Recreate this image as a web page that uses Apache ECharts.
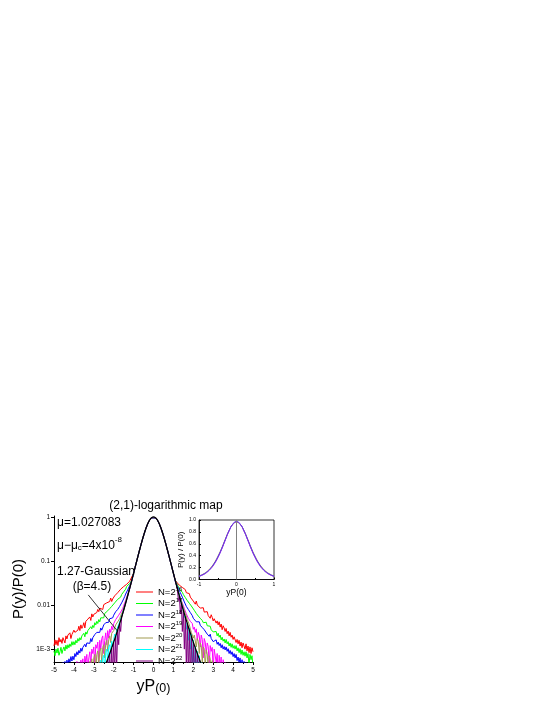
<!DOCTYPE html>
<html>
<head>
<meta charset="utf-8">
<script src="https://cdn.jsdelivr.net/npm/echarts@6/dist/echarts.min.js"></script>
<style>
  html, body { margin: 0; padding: 0; background: #fff; }
  #chart { width: 545px; height: 705px; }
</style>
</head>
<body>
<div id="chart"></div>
<script>
// |yP(0)| sample positions of the noisy tails, from 1.10 outwards
const tailX = [
  1.10, 1.15, 1.20, 1.25, 1.30, 1.35, 1.40, 1.45, 1.50, 1.55,
  1.60, 1.65, 1.70, 1.75, 1.80, 1.85, 1.90, 1.95, 2.00, 2.05,
  2.10, 2.15, 2.20, 2.25, 2.30, 2.35, 2.40, 2.45, 2.50, 2.55,
  2.60, 2.65, 2.70, 2.75, 2.80, 2.85, 2.90, 2.95, 3.00, 3.05,
  3.10, 3.15, 3.20, 3.25, 3.30, 3.35, 3.40, 3.45, 3.50, 3.55,
  3.60, 3.65, 3.70, 3.75, 3.80, 3.85, 3.90, 3.95, 4.00, 4.05,
  4.10, 4.15, 4.20, 4.25, 4.30, 4.35, 4.40, 4.45, 4.50, 4.55,
  4.60, 4.65, 4.70, 4.75, 4.80, 4.85, 4.90, 4.95, 5.00
]

// black 1.27-Gaussian, x = -2.4 .. 2.4 (its middle is the common core of all N)
const gaussX = [
  -2.4, -2.3, -2.2, -2.1, -2, -1.9, -1.8, -1.7, -1.6, -1.5,
  -1.4, -1.3, -1.2, -1.1, -1, -0.9, -0.8, -0.7, -0.6, -0.5,
  -0.4, -0.3, -0.2, -0.1, 0, 0.1, 0.2, 0.3, 0.4, 0.5,
  0.6, 0.7, 0.8, 0.9, 1, 1.1, 1.2, 1.3, 1.4, 1.5,
  1.6, 1.7, 1.8, 1.9, 2, 2.1, 2.2, 2.3, 2.4
]
// log10 of P(y)/P(0)
const gaussLog = [
  -3.341, -3.222, -3.099, -2.972, -2.842, -2.706, -2.565, -2.421, -2.272, -2.117,
  -1.958, -1.794, -1.625, -1.453, -1.278, -1.101, -0.924, -0.751, -0.583, -0.426,
  -0.286, -0.167, -0.076, -0.020, 0, -0.020, -0.076, -0.167, -0.286, -0.426,
  -0.583, -0.751, -0.924, -1.101, -1.278, -1.453, -1.625, -1.794, -1.958, -2.117,
  -2.272, -2.421, -2.565, -2.706, -2.842, -2.972, -3.099, -3.222, -3.341
]

// tails, log10 values, ordered from |x| = 1.10 outwards (L = negative side, R = positive side)
const n16L = [
  -1.44, -1.47, -1.46, -1.51, -1.54, -1.53, -1.57, -1.60, -1.58, -1.64,
  -1.67, -1.64, -1.71, -1.72, -1.72, -1.77, -1.83, -1.79, -1.86, -1.86,
  -1.92, -1.84, -1.92, -1.92, -1.99, -1.95, -1.99, -2.00, -1.99, -2.10,
  -2.04, -2.09, -2.07, -2.15, -2.10, -2.17, -2.23, -2.17, -2.21, -2.27,
  -2.20, -2.35, -2.27, -2.33, -2.32, -2.39, -2.37, -2.52, -2.40, -2.48,
  -2.53, -2.45, -2.58, -2.48, -2.57, -2.63, -2.58, -2.62, -2.57, -2.70,
  -2.67, -2.76, -2.63, -2.72, -2.68, -2.77, -2.70, -2.86, -2.75, -2.74,
  -2.87, -2.78, -2.84, -2.74, -2.92, -2.80, -2.90, -2.79, -2.93
]
const n16R = [
  -1.44, -1.45, -1.50, -1.49, -1.55, -1.57, -1.55, -1.60, -1.63, -1.62,
  -1.65, -1.72, -1.71, -1.76, -1.74, -1.82, -1.79, -1.86, -1.91, -1.89,
  -1.98, -1.91, -2.00, -2.01, -1.99, -2.07, -2.03, -2.11, -2.06, -2.16,
  -2.12, -2.20, -2.15, -2.24, -2.21, -2.30, -2.22, -2.28, -2.36, -2.31,
  -2.33, -2.41, -2.36, -2.45, -2.38, -2.50, -2.43, -2.56, -2.47, -2.52,
  -2.60, -2.53, -2.65, -2.59, -2.70, -2.62, -2.73, -2.68, -2.78, -2.72,
  -2.74, -2.85, -2.78, -2.88, -2.80, -2.93, -2.84, -2.97, -2.86, -2.90,
  -3.00, -2.88, -3.04, -2.93, -3.08, -2.95, -3.10, -2.97, -3.06
]
const n17L = [
  -1.45, -1.49, -1.51, -1.56, -1.59, -1.58, -1.64, -1.67, -1.70, -1.76,
  -1.76, -1.82, -1.83, -1.86, -1.87, -1.93, -1.92, -1.95, -2.01, -2.00,
  -2.03, -2.09, -2.08, -2.15, -2.13, -2.17, -2.23, -2.19, -2.29, -2.27,
  -2.33, -2.29, -2.38, -2.33, -2.42, -2.37, -2.45, -2.40, -2.51, -2.46,
  -2.54, -2.49, -2.60, -2.55, -2.58, -2.66, -2.61, -2.72, -2.64, -2.74,
  -2.70, -2.79, -2.74, -2.82, -2.76, -2.86, -2.80, -2.90, -2.83, -2.91,
  -2.83, -2.94, -2.88, -2.97, -2.90, -3.00, -2.91, -3.04, -2.95, -3.01,
  -3.10, -2.96, -3.06, -3.14, -2.98, -3.09, -3.00, -3.15, -3.04
]
const n17R = [
  -1.45, -1.50, -1.53, -1.58, -1.60, -1.66, -1.68, -1.71, -1.76, -1.77,
  -1.83, -1.85, -1.90, -1.91, -1.96, -1.97, -2.02, -2.04, -2.06, -2.12,
  -2.12, -2.19, -2.18, -2.25, -2.24, -2.30, -2.27, -2.35, -2.40, -2.37,
  -2.43, -2.39, -2.47, -2.45, -2.51, -2.48, -2.56, -2.52, -2.61, -2.58,
  -2.65, -2.60, -2.70, -2.64, -2.73, -2.68, -2.79, -2.73, -2.82, -2.77,
  -2.86, -2.78, -2.88, -2.83, -2.93, -2.86, -2.96, -2.88, -2.98, -2.92,
  -3.00, -2.92, -3.04, -2.97, -3.08, -2.99, -3.12, -3.02, -3.14, -3.06,
  -3.16, -3.06, -3.20, -3.10, -3.35, -3.12, -3.24, -3.15, -3.40
]
const n18L = [
  -1.47, -1.53, -1.56, -1.63, -1.66, -1.71, -1.75, -1.81, -1.86, -1.93,
  -1.95, -2.01, -2.03, -2.07, -2.10, -2.13, -2.15, -2.21, -2.23, -2.29,
  -2.27, -2.33, -2.31, -2.39, -2.37, -2.42, -2.40, -2.49, -2.45, -2.53,
  -2.57, -2.52, -2.62, -2.58, -2.66, -2.62, -2.71, -2.67, -2.77, -2.74,
  -2.83, -2.76, -2.87, -2.82, -2.90, -2.86, -2.95, -2.89, -3.00, -2.96,
  -3.05, -2.98, -3.09, -3.03, -3.13, -3.06, -3.17, -3.10, -3.24, -3.16,
  -3.27, -3.17, -3.30, -3.22, -3.36, -3.25, -3.45, -3.28, -3.50, -3.30,
  -3.55, -3.36, -3.60, -3.38, -3.55, -3.42, -3.65, -3.40, -3.60
]
const n18R = [
  -1.47, -1.52, -1.57, -1.62, -1.67, -1.72, -1.77, -1.82, -1.86, -1.93,
  -1.95, -2.03, -2.03, -2.10, -2.12, -2.17, -2.17, -2.24, -2.30, -2.29,
  -2.30, -2.38, -2.35, -2.42, -2.38, -2.46, -2.43, -2.51, -2.47, -2.56,
  -2.58, -2.55, -2.66, -2.62, -2.71, -2.66, -2.76, -2.72, -2.83, -2.79,
  -2.86, -2.79, -2.89, -2.84, -2.92, -2.87, -2.97, -2.90, -3.00, -2.94,
  -3.02, -2.95, -3.05, -2.99, -3.10, -3.03, -3.12, -3.06, -3.17, -3.10,
  -3.20, -3.12, -3.26, -3.18, -3.30, -3.20, -3.40, -3.24, -3.45, -3.28,
  -3.50, -3.30, -3.60, -3.35, -3.55, -3.40, -3.65, -3.42, -3.60
]
const n19L = [
  -1.46, -1.55, -1.63, -1.70, -1.78, -1.82, -1.90, -1.95, -2.02, -2.08,
  -2.14, -2.16, -2.24, -2.23, -2.30, -2.36, -2.33, -2.44, -2.42, -2.56,
  -2.48, -2.62, -2.55, -2.75, -2.58, -2.90, -2.63, -2.80, -3.10, -2.70,
  -2.76, -3.00, -2.80, -3.30, -2.84, -2.98, -2.90, -3.40, -2.95, -3.10,
  -3.00, -3.35, -3.06, -3.20, -3.50, -3.12, -3.30, -3.16, -3.60, -3.22,
  -3.40, -3.25, -3.60, -3.30, -3.50, -3.28, -3.70, -3.40, -3.60, -3.45,
  -3.70, -3.40, -3.70, -3.50, -3.70, -3.45, -3.70, -3.60, -3.70, -3.60
]
const n19R = [
  -1.46, -1.54, -1.63, -1.71, -1.77, -1.84, -1.90, -1.96, -2.01, -2.08,
  -2.10, -2.20, -2.19, -2.30, -2.28, -2.37, -2.40, -2.42, -2.55, -2.50,
  -2.62, -2.54, -2.80, -2.62, -2.70, -2.95, -2.68, -2.78, -3.20, -2.76,
  -2.84, -3.10, -2.86, -2.94, -3.40, -2.92, -3.05, -2.96, -3.50, -3.00,
  -3.04, -3.30, -3.10, -3.60, -3.14, -3.40, -3.18, -3.70, -3.24, -3.50,
  -3.30, -3.70, -3.35, -3.60, -3.40, -3.70, -3.50, -3.70, -3.60, -3.70
]
const n20L = [
  -1.46, -1.54, -1.62, -1.70, -1.78, -1.85, -1.93, -2.00, -2.07, -2.14,
  -2.20, -2.24, -2.31, -2.36, -2.38, -2.48, -2.45, -2.62, -2.58, -2.66,
  -2.64, -2.85, -2.70, -2.78, -3.05, -2.80, -2.86, -3.20, -2.90, -2.96,
  -3.30, -2.98, -3.05, -3.40, -3.04, -3.12, -3.50, -3.12, -3.20, -3.60,
  -3.22, -3.45, -3.28, -3.60, -3.32, -3.70, -3.40, -3.60, -3.70, -3.60
]
const n20R = [
  -1.46, -1.54, -1.62, -1.69, -1.77, -1.84, -1.91, -1.98, -2.05, -2.12,
  -2.19, -2.25, -2.33, -2.34, -2.45, -2.48, -2.62, -2.58, -2.75, -2.68,
  -2.72, -2.95, -2.76, -2.82, -3.10, -2.86, -2.92, -3.30, -2.95, -3.00,
  -3.40, -3.02, -3.10, -3.50, -3.15, -3.22, -3.60, -3.26, -3.70, -3.35,
  -3.70, -3.60, -3.70, -3.60, -3.70
]
const n21L = [
  -1.45, -1.54, -1.62, -1.70, -1.79, -1.87, -1.95, -2.03, -2.10, -2.18,
  -2.25, -2.32, -2.45, -2.44, -2.60, -2.56, -2.75, -2.66, -2.78, -2.95,
  -2.82, -3.10, -2.90, -2.95, -3.30, -3.00, -3.08, -3.50, -3.14, -3.20,
  -3.60, -3.25, -3.32, -3.70, -3.40, -3.70, -3.60, -3.70
]
const n21R = [
  -1.45, -1.54, -1.62, -1.70, -1.79, -1.87, -1.95, -2.03, -2.12, -2.25,
  -2.30, -2.55, -2.40, -2.80, -2.52, -3.00, -2.66, -3.30, -2.80, -3.50,
  -2.94, -3.60, -3.05, -3.70, -3.15, -3.70, -3.30, -3.70, -3.60, -3.70
]
const n22L = [
  -1.45, -1.54, -1.63, -1.71, -1.80, -1.88, -1.96, -2.04, -2.12, -2.30,
  -2.28, -2.60, -2.43, -2.90, -2.57, -3.40, -2.71, -3.50, -2.85, -3.60,
  -2.98, -3.70, -3.10, -3.60, -3.22, -3.70, -3.34, -3.70, -3.60, -3.70
]
const n22R = [
  -1.45, -1.54, -1.64, -1.90, -1.80, -2.20, -1.96, -2.60, -2.12, -3.00,
  -2.27, -3.40, -2.42, -3.60, -2.57, -3.70, -2.71, -3.70, -2.84, -3.70,
  -2.97, -3.70, -3.10, -3.70, -3.22, -3.70, -3.34, -3.70
]

const exponents = [16, 17, 18, 19, 20, 21, 22]
const colors = ['#ff0000', '#00ff00', '#0000ff', '#ff00ff', '#a09a50', '#00ffff', '#800080']
const tails = [
  [n16L, n16R], [n17L, n17R], [n18L, n18R], [n19L, n19R],
  [n20L, n20R], [n21L, n21R], [n22L, n22R]
]

// main y axis tick labels
const yTickLabels = { '0': '1', '-1': '0.1', '-2': '0.01', '-3': '1E-3' }

// inset (linear scale), x = -1 .. 1
const insetX = [-1, -0.9, -0.8, -0.7, -0.6, -0.5, -0.4, -0.3, -0.2, -0.1, 0, 0.1, 0.2, 0.3, 0.4, 0.5, 0.6, 0.7, 0.8, 0.9, 1]
const insetOlive = [0.06, 0.087, 0.128, 0.188, 0.272, 0.385, 0.52, 0.675, 0.82, 0.925, 0.96, 0.925, 0.82, 0.675, 0.52, 0.385, 0.272, 0.188, 0.128, 0.087, 0.06]
const insetBlue = [0.055, 0.082, 0.121, 0.18, 0.262, 0.373, 0.51, 0.667, 0.818, 0.93, 0.975, 0.93, 0.818, 0.667, 0.51, 0.373, 0.262, 0.18, 0.121, 0.082, 0.055]
const insetPurple = [0.051, 0.077, 0.115, 0.172, 0.253, 0.364, 0.502, 0.661, 0.814, 0.927, 0.97, 0.927, 0.814, 0.661, 0.502, 0.364, 0.253, 0.172, 0.115, 0.077, 0.051]

const FONT = 'Liberation Sans, Arial, sans-serif'

// common core (-1 .. 1) of every N curve
const coreX = gaussX.slice(14, 35)
const coreLog = gaussLog.slice(14, 35)

function curve(left, right) {
  const l = left.map((v, i) => [-tailX[i], Math.pow(10, v)]).reverse()
  const c = coreX.map((x, i) => [x, Math.pow(10, coreLog[i])])
  const r = right.map((v, i) => [tailX[i], Math.pow(10, v)])
  return l.concat(c, r)
}

const chart = echarts.init(document.getElementById('chart'), null, { renderer: 'canvas' })

const series = exponents.map((e, k) => ({
  name: 'N=2^' + e,
  type: 'line',
  xAxisIndex: 0,
  yAxisIndex: 0,
  symbol: 'none',
  color: colors[k],
  lineStyle: { width: 1, color: colors[k] },
  emphasis: { disabled: true },
  data: curve(tails[k][0], tails[k][1])
}))

series.push({
  name: 'gauss',
  type: 'line',
  xAxisIndex: 0,
  yAxisIndex: 0,
  symbol: 'none',
  smooth: true,
  lineStyle: { width: 1.3, color: '#000' },
  emphasis: { disabled: true },
  data: gaussX.map((x, i) => [x, Math.pow(10, gaussLog[i])]),
  markLine: {
    silent: true,
    symbol: ['none', 'none'],
    label: { show: false },
    lineStyle: { color: '#000', width: 0.8, type: 'solid' },
    data: [[{ coord: [-3.28, 0.017] }, { coord: [-1.82, 0.0026] }]]
  }
})

const insetSeries = [
  ['olive', insetOlive, '#a09a50'],
  ['blue', insetBlue, '#3030ff'],
  ['purple', insetPurple, '#8a2be2']
]
insetSeries.forEach(([name, vals, c], i) => {
  series.push({
    name: 'inset-' + name,
    type: 'line',
    xAxisIndex: 1,
    yAxisIndex: 1,
    symbol: 'none',
    smooth: true,
    lineStyle: { width: 1, color: c },
    emphasis: { disabled: true },
    data: insetX.map((x, j) => [x, vals[j]]),
    markLine: i === 0 ? {
      silent: true,
      symbol: ['none', 'none'],
      label: { show: false },
      lineStyle: { color: '#808080', width: 1, type: 'solid' },
      data: [{ xAxis: 0 }]
    } : undefined
  })
})

const option = {
  animation: false,
  backgroundColor: '#fff',
  textStyle: { fontFamily: FONT, color: '#000' },
  legend: {
    data: exponents.map(e => 'N=2^' + e),
    orient: 'vertical',
    left: 131,
    top: 581,
    icon: 'rect',
    itemWidth: 17,
    itemHeight: 1,
    itemGap: 0.5,
    selectedMode: false,
    formatter: name => '{b|N=2}{s|' + name.split('^')[1] + '}',
    textStyle: {
      color: '#000',
      rich: {
        b: { fontSize: 9.5, fontFamily: FONT, lineHeight: 12, color: '#000' },
        s: { fontSize: 6, fontFamily: FONT, lineHeight: 7, verticalAlign: 'top', color: '#000' }
      }
    }
  },
  grid: [
    { left: 54, right: 292, top: 516, bottom: 43 },
    { left: 199, right: 271, top: 520, bottom: 125.5, show: true, borderColor: '#000', borderWidth: 0.8 }
  ],
  xAxis: [
    {
      gridIndex: 0,
      type: 'value',
      min: -5,
      max: 5,
      interval: 1,
      name: '{a|yP}{b|(0)}',
      nameLocation: 'middle',
      nameGap: 15,
      nameTextStyle: {
        rich: {
          a: { fontSize: 16, fontFamily: FONT, color: '#000', lineHeight: 18, verticalAlign: 'bottom' },
          b: { fontSize: 12.5, fontFamily: FONT, color: '#000', lineHeight: 16, verticalAlign: 'bottom' }
        }
      },
      axisLine: { show: true, onZero: false, lineStyle: { color: '#000', width: 1 } },
      axisTick: { show: true, length: 3, lineStyle: { color: '#000' } },
      minorTick: { show: true, splitNumber: 2, length: 2, lineStyle: { color: '#000' } },
      axisLabel: { fontSize: 6.5, color: '#000', margin: 5 },
      splitLine: { show: false }
    },
    {
      gridIndex: 1,
      type: 'value',
      min: -1,
      max: 1,
      interval: 1,
      name: 'yP(0)',
      nameLocation: 'middle',
      nameGap: 9,
      nameTextStyle: { fontSize: 8.5, color: '#000' },
      axisLine: { show: true, onZero: false, lineStyle: { color: '#000', width: 0.8 } },
      axisTick: { show: true, inside: true, length: 2, lineStyle: { color: '#000' } },
      minorTick: { show: true, splitNumber: 2, length: 1.5, lineStyle: { color: '#000' } },
      axisLabel: { fontSize: 5, color: '#000', margin: 3 },
      splitLine: { show: false }
    }
  ],
  yAxis: [
    {
      gridIndex: 0,
      type: 'log',
      logBase: 10,
      min: 5.1e-4,
      max: 1.05,
      name: 'P(y)/P(0)',
      nameLocation: 'middle',
      nameGap: 28,
      nameTextStyle: { fontSize: 15, color: '#000' },
      axisLine: { show: true, onZero: false, lineStyle: { color: '#000', width: 1 } },
      axisTick: { show: true, length: 3, lineStyle: { color: '#000' } },
      axisLabel: {
        fontSize: 6.5,
        color: '#000',
        margin: 4,
        showMinLabel: false,
        showMaxLabel: false,
        formatter: v => {
          const l = Math.log10(v)
          const r = Math.round(l)
          if (Math.abs(l - r) > 1e-6) return ''
          return yTickLabels[String(r)] || ''
        }
      },
      splitLine: { show: false }
    },
    {
      gridIndex: 1,
      type: 'value',
      min: 0,
      max: 1,
      interval: 0.2,
      name: 'P(y) / P(0)',
      nameLocation: 'middle',
      nameGap: 8,
      nameTextStyle: { fontSize: 8, color: '#000' },
      axisLine: { show: true, onZero: false, lineStyle: { color: '#000', width: 0.8 } },
      axisTick: { show: true, inside: true, length: 2, lineStyle: { color: '#000' } },
      axisLabel: { fontSize: 5, color: '#000', margin: 3, formatter: v => v.toFixed(1) },
      splitLine: { show: false }
    }
  ],
  graphic: [
    {
      type: 'text', x: 166, y: 506,
      style: { text: '(2,1)-logarithmic map', font: '12px ' + FONT, fill: '#000', align: 'center', verticalAlign: 'middle' }
    },
    {
      type: 'text', x: 57, y: 523,
      style: { text: 'μ=1.027083', font: '12px ' + FONT, fill: '#000', align: 'left', verticalAlign: 'middle' }
    },
    {
      type: 'text', x: 57, y: 536,
      style: {
        text: '{a|μ−μ}{c|c}{a|=4x10}{e|-8}',
        fill: '#000',
        rich: {
          a: { fontSize: 12, fontFamily: FONT, lineHeight: 16, verticalAlign: 'bottom', fill: '#000' },
          c: { fontSize: 8, fontFamily: FONT, lineHeight: 9, verticalAlign: 'bottom', fill: '#000' },
          e: { fontSize: 8, fontFamily: FONT, lineHeight: 8, verticalAlign: 'top', fill: '#000' }
        }
      }
    },
    {
      type: 'text', x: 57, y: 572,
      style: { text: '1.27-Gaussian', font: '12px ' + FONT, fill: '#000', align: 'left', verticalAlign: 'middle' }
    },
    {
      type: 'text', x: 92, y: 587,
      style: { text: '(β=4.5)', font: '12px ' + FONT, fill: '#000', align: 'center', verticalAlign: 'middle' }
    }
  ],
  series: series
}

chart.setOption(option)
</script>
</body>
</html>
